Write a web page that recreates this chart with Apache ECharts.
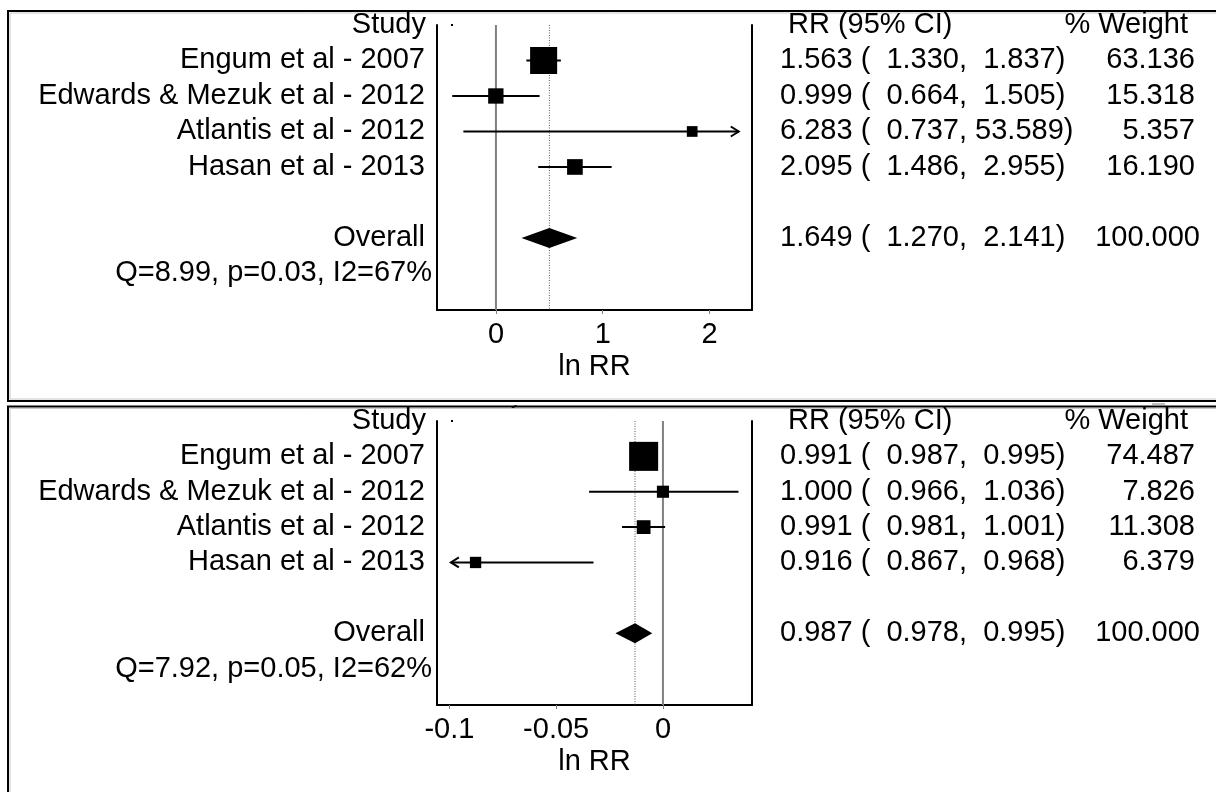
<!DOCTYPE html>
<html><head><meta charset="utf-8">
<script src="https://cdn.jsdelivr.net/npm/echarts@6/dist/echarts.min.js"></script>
<style>html,body{margin:0;padding:0;background:#fff}#c{width:1216px;height:792px}</style>
</head><body><div id="c"></div>
<script>
// ---------- data ----------
const studies = ['Engum et al - 2007', 'Edwards & Mezuk et al - 2012', 'Atlantis et al - 2012', 'Hasan et al - 2013'];
// panel A
const rrA = [1.563, 0.999, 6.283, 2.095];
const loA = [1.330, 0.664, 0.737, 1.486];
const hiA = [1.837, 1.505, 53.589, 2.955];
const wA = [63.136, 15.318, 5.357, 16.190];
const overallA = [1.649, 1.270, 2.141];
const hetA = 'Q=8.99, p=0.03, I2=67%';
const ticksA = [0, 1, 2];
const rangeA = [-0.552, 2.398];
const clipA = [-0.552, 2.274];
// panel B
const rrB = [0.991, 1.000, 0.991, 0.916];
const loB = [0.987, 0.966, 0.981, 0.867];
const hiB = [0.995, 1.036, 1.001, 0.968];
const wB = [74.487, 7.826, 11.308, 6.379];
const overallB = [0.987, 0.978, 0.995];
const hetB = 'Q=7.92, p=0.05, I2=62%';
const ticksB = [-0.1, -0.05, 0];
const rangeB = [-0.1058, 0.0417];
const clipB = [-0.0993, 0.0417];
const totalWeight = '100.000';
const headers = ['Study', 'RR (95% CI)', '% Weight'];
const xTitle = 'ln RR';

// ---------- layout ----------
const FONT = '"Liberation Sans", Arial, sans-serif';
const FS = 29;
const ROWMAX = 8.03;
const panels = [
  {rr: rrA, lo: loA, hi: hiA, w: wA, ov: overallA, het: hetA, ticks: ticksA, range: rangeA, clip: clipA, top: 25, height: 285},
  {rr: rrB, lo: loB, hi: hiB, w: wB, ov: overallB, het: hetB, ticks: ticksB, range: rangeB, clip: clipB, top: 421, height: 284}
];
const f3 = v => v.toFixed(3);
const p6 = v => f3(v).padStart(6, ' ');
const ciText = (e, l, h) => f3(e) + ' ( ' + p6(l) + ', ' + p6(h) + ')';

const chart = echarts.init(document.getElementById('c'), null, {renderer: 'canvas'});
const grid = [], xAxis = [], yAxis = [], series = [];

panels.forEach((P, pi) => {
  grid.push({left: 437, top: P.top, width: 315, height: P.height, containLabel: false});
  xAxis.push({
    type: 'value', gridIndex: pi, min: P.range[0], max: P.range[1],
    axisLine: {show: true, onZero: false, lineStyle: {color: '#000', width: 2}},
    axisTick: {show: true, customValues: P.ticks, length: 4, lineStyle: {color: '#808080', width: 1}},
    axisLabel: {show: true, customValues: P.ticks, margin: 10, color: '#000', fontSize: FS, fontFamily: FONT,
      formatter: v => String(+(+v).toFixed(3))},
    splitLine: {show: false},
    name: xTitle, nameLocation: 'middle', nameGap: 42,
    nameTextStyle: {color: '#000', fontSize: FS, fontFamily: FONT}
  });
  ['left', 'right'].forEach(pos => {
    yAxis.push({
      type: 'value', gridIndex: pi, position: pos, inverse: true, min: 0, max: ROWMAX,
      axisLine: {show: true, onZero: false, lineStyle: {color: '#000', width: 2}},
      axisTick: {show: false}, axisLabel: {show: false}, splitLine: {show: false}
    });
  });
  const yi = pi * 2;
  const refX = [0, Math.log(P.ov[0])];
  series.push({
    type: 'custom', xAxisIndex: pi, yAxisIndex: yi, silent: true, z: 1,
    data: refX.map((x, k) => [x, k]),
    encode: {x: 0},
    renderItem: (params, api) => {
      const x = api.value(0), k = api.value(1);
      const a = api.coord([x, 0]), b = api.coord([x, ROWMAX]);
      return {type: 'line', shape: {x1: a[0], y1: a[1], x2: b[0], y2: b[1]},
        style: k === 0 ? {stroke: '#808080', lineWidth: 2} : {stroke: '#555', lineWidth: 1, lineDash: [1, 1.5]}};
    }
  });
  const clip = P.clip;
  series.push({
    type: 'custom', xAxisIndex: pi, yAxisIndex: yi, silent: true, z: 3,
    data: P.rr.map((r, i) => [Math.log(r), Math.log(P.lo[i]), Math.log(P.hi[i]), i + 1, P.w[i]]),
    encode: {x: [0, 1, 2], y: 3},
    renderItem: (params, api) => {
      const est = api.value(0), lo = api.value(1), hi = api.value(2), row = api.value(3), w = api.value(4);
      const pe = api.coord([est, row]);
      const y = pe[1];
      const loC = Math.max(lo, clip[0]), hiC = Math.min(hi, clip[1]);
      const xl = api.coord([loC, row])[0], xh = api.coord([hiC, row])[0];
      const s = 4 + 2.9 * Math.sqrt(w);
      const ch = [{type: 'line', shape: {x1: xl, y1: y, x2: xh, y2: y}, style: {stroke: '#000', lineWidth: 2}}];
      if (hi > clip[1]) ch.push({type: 'polyline', shape: {points: [[xh - 8, y - 5], [xh, y], [xh - 8, y + 5]]}, style: {stroke: '#000', lineWidth: 2, fill: null}});
      if (lo < clip[0]) ch.push({type: 'polyline', shape: {points: [[xl + 8, y - 5], [xl, y], [xl + 8, y + 5]]}, style: {stroke: '#000', lineWidth: 2, fill: null}});
      ch.push({type: 'rect', shape: {x: pe[0] - s / 2, y: y - s / 2, width: s, height: s}, style: {fill: '#000'}});
      return {type: 'group', children: ch};
    }
  });
  series.push({
    type: 'custom', xAxisIndex: pi, yAxisIndex: yi, silent: true, z: 3,
    data: [[Math.log(P.ov[0]), Math.log(P.ov[1]), Math.log(P.ov[2]), 6]],
    encode: {x: [0, 1, 2], y: 3},
    renderItem: (params, api) => {
      const e = api.coord([api.value(0), api.value(3)]);
      const l = api.coord([api.value(1), api.value(3)]);
      const h = api.coord([api.value(2), api.value(3)]);
      return {type: 'polygon', shape: {points: [[l[0], e[1]], [e[0], e[1] - 10], [h[0], e[1]], [e[0], e[1] + 10]]}, style: {fill: '#000'}};
    }
  });
  const items = [
    {row: 0, x: 426, align: 'right', text: headers[0]},
    {row: 0, x: 788, align: 'left', text: headers[1]},
    {row: 0, x: 1188, align: 'right', text: headers[2]}
  ];
  studies.forEach((s, i) => {
    items.push({row: i + 1, x: 425, align: 'right', text: s});
    items.push({row: i + 1, x: 780, align: 'left', text: ciText(P.rr[i], P.lo[i], P.hi[i])});
    items.push({row: i + 1, x: 1195, align: 'right', text: f3(P.w[i])});
  });
  items.push({row: 6, x: 425, align: 'right', text: 'Overall'});
  items.push({row: 6, x: 780, align: 'left', text: ciText(P.ov[0], P.ov[1], P.ov[2])});
  items.push({row: 6, x: 1200, align: 'right', text: totalWeight});
  items.push({row: 7, x: 432, align: 'right', text: P.het});
  series.push({
    type: 'custom', xAxisIndex: pi, yAxisIndex: yi, silent: true, z: 5, clip: false,
    data: items.map(it => [0, it.row]),
    encode: {y: 1},
    renderItem: (params, api) => {
      const it = items[params.dataIndex];
      const y = api.coord([0, api.value(1)])[1];
      return {type: 'text', x: it.x, y: y,
        style: {text: it.text, fill: '#000', fontSize: FS, fontFamily: FONT, align: it.align, verticalAlign: 'middle'}};
    }
  });
});

const graphic = [
  {type: 'text', left: 536, top: -10, z: 1, style: {text: 'y', fill: '#0000ff', fontSize: 22, fontFamily: FONT}},
  {type: 'rect', shape: {x: 0, y: 0, width: 1216, height: 10}, z: 2, style: {fill: '#fff'}},
  {type: 'text', left: 511, top: 386, z: 1, style: {text: 'y', fill: '#0000ff', fontSize: 22, fontFamily: FONT}},
  {type: 'rect', shape: {x: 0, y: 380, width: 1216, height: 25}, z: 2, style: {fill: '#fff'}},
  {type: 'rect', shape: {x: 8, y: 11, width: 1300, height: 390}, z: 3, style: {fill: null, stroke: '#000', lineWidth: 2}},
  {type: 'rect', shape: {x: 10, y: 13, width: 1300, height: 386}, z: 3, style: {fill: null, stroke: '#c8c8c8', lineWidth: 1}},
  {type: 'rect', shape: {x: 8, y: 406.5, width: 1300, height: 500}, z: 3, style: {fill: null, stroke: '#000', lineWidth: 2}},
  {type: 'rect', shape: {x: 10, y: 408.5, width: 1300, height: 500}, z: 3, style: {fill: null, stroke: '#c8c8c8', lineWidth: 1}},
  {type: 'rect', shape: {x: 1152, y: 403, width: 13, height: 2}, z: 3, style: {fill: '#c0c0c0'}},
  {type: 'rect', shape: {x: 451, y: 24, width: 2, height: 2}, z: 3, style: {fill: '#000'}},
  {type: 'rect', shape: {x: 451, y: 420, width: 2, height: 2}, z: 3, style: {fill: '#000'}}
];

chart.setOption({animation: false, backgroundColor: '#fff', grid, xAxis, yAxis, series, graphic});
</script></body></html>
